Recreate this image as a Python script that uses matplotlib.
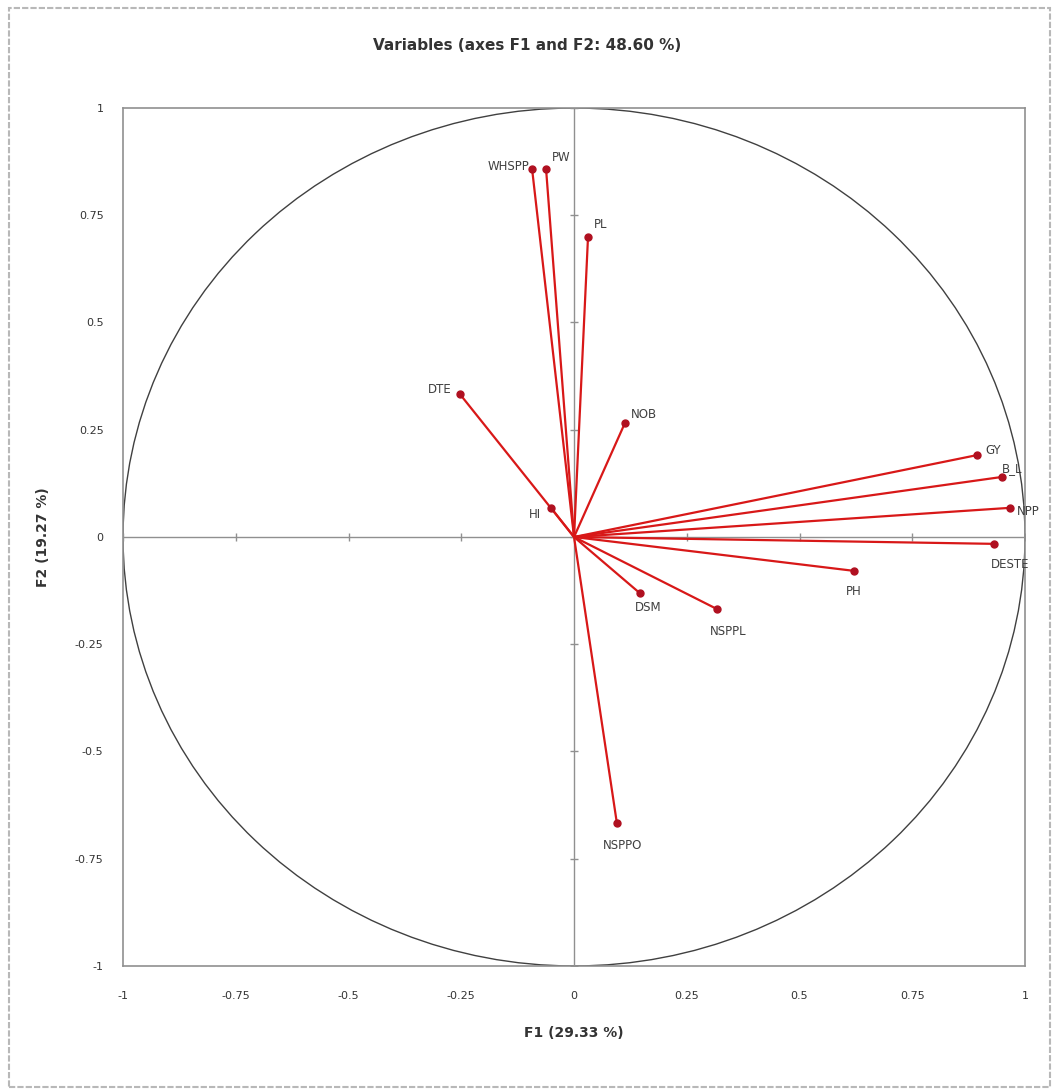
import numpy as np
import matplotlib.pyplot as plt
from matplotlib.patches import Circle, Rectangle

plt.rcParams['font.family'] = ['Liberation Sans Narrow', 'DejaVu Sans']

# variable loadings on F1 / F2
names = ['WHSPP', 'PW', 'PL', 'DTE', 'NOB', 'HI', 'GY', 'B_L', 'NPP',
         'DESTE', 'PH', 'DSM', 'NSPPL', 'NSPPO']
f1 = [-0.093, -0.062, 0.031, -0.253, 0.113, -0.051, 0.894, 0.949, 0.967,
      0.931, 0.621, 0.146, 0.317, 0.095]
f2 = [0.858, 0.858, 0.699, 0.333, 0.266, 0.068, 0.191, 0.140, 0.068,
      -0.016, -0.079, -0.131, -0.168, -0.667]
ticks = [-1, -0.75, -0.5, -0.25, 0, 0.25, 0.5, 0.75, 1]
tick_labels = ['-1', '-0.75', '-0.5', '-0.25', '0', '0.25', '0.5', '0.75', '1']

# label offsets in points (dx, dy, ha, va)
offs = {
    'WHSPP': (-2, 2, 'right', 'center'),
    'PW': (4, 8, 'left', 'center'),
    'PL': (4, 9, 'left', 'center'),
    'DTE': (-6, 3, 'right', 'center'),
    'NOB': (4, 6, 'left', 'center'),
    'HI': (-7, -5, 'right', 'center'),
    'GY': (6, 3, 'left', 'center'),
    'B_L': (0, 6, 'left', 'center'),
    'NPP': (5, -3, 'left', 'center'),
    'DESTE': (-2, -15, 'left', 'center'),
    'PH': (0, -15, 'center', 'center'),
    'DSM': (6, -10, 'center', 'center'),
    'NSPPL': (8, -16, 'center', 'center'),
    'NSPPO': (4, -16, 'center', 'center'),
}

fig = plt.figure(figsize=(10.55, 10.91), dpi=100)
ax = fig.add_axes([0.1166, 0.1146, 0.855, 0.7864])

fig.patches.append(Rectangle((0.009, 0.004), 0.986, 0.989, transform=fig.transFigure,
                             fill=False, edgecolor='#b8b8b8', lw=1.5, linestyle=(0, (3, 1))))

ax.set_xlim(-1, 1)
ax.set_ylim(-1, 1)
for s in ax.spines.values():
    s.set_color('#909090')
    s.set_linewidth(1.2)

ax.add_patch(Circle((0, 0), 1, fill=False, edgecolor='#404040', lw=1.0))
ax.axhline(0, color='#909090', lw=1)
ax.axvline(0, color='#909090', lw=1)
# small tick marks on the central cross
ax.plot(ticks, [0] * len(ticks), linestyle='none', marker='|', color='#909090', ms=6)
ax.plot([0] * len(ticks), ticks, linestyle='none', marker='_', color='#909090', ms=6)

for n, x, y in zip(names, f1, f2):
    ax.plot([0, x], [0, y], color='#d81818', lw=1.6, solid_capstyle='butt')
    ax.plot(x, y, 'o', color='#b01020', ms=5)
    dx, dy, ha, va = offs[n]
    ax.annotate(n, (x, y), xytext=(dx, dy), textcoords='offset points',
                ha=ha, va=va, fontsize=8.5, color='#404040')

ax.set_xticks(ticks)
ax.set_xticklabels(tick_labels, fontsize=8, color='#333333')
ax.set_yticks(ticks)
ax.set_yticklabels(tick_labels, fontsize=8, color='#333333')
ax.tick_params(length=0, pad=18)
ax.tick_params(axis='y', pad=14)

ax.set_xlabel('F1 (29.33 %)', fontsize=10, fontweight='bold', color='#333333', labelpad=18)
ax.set_ylabel('F2 (19.27 %)', fontsize=10, fontweight='bold', color='#333333', labelpad=18)
fig.text(0.5, 0.958, 'Variables (axes F1 and F2: 48.60 %)', ha='center', va='center',
         fontsize=11, fontweight='bold', color='#333333')

fig.savefig('out.png', dpi=100)
